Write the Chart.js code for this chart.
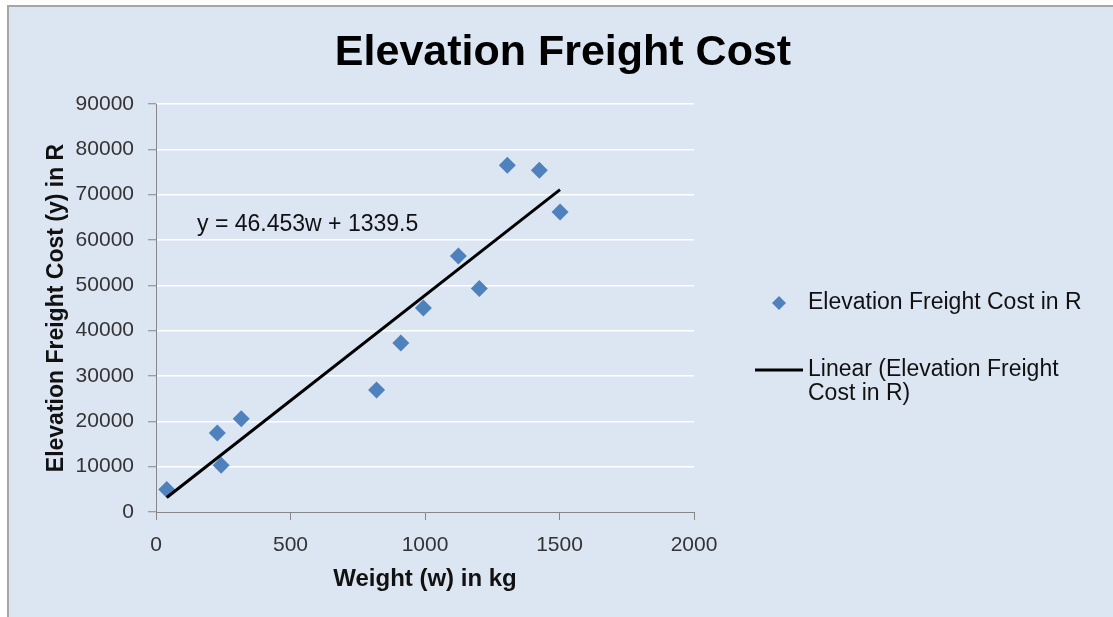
<!DOCTYPE html>
<html>
<head>
<meta charset="utf-8">
<script src="https://cdn.jsdelivr.net/npm/chart.js@4/dist/chart.umd.min.js"></script>
<style>
  html, body { margin: 0; padding: 0; background: #ffffff; }
  #wrap { width: 1113px; height: 617px; position: relative; }
</style>
</head>
<body>
<div id="wrap"><canvas id="c" width="1113" height="617"></canvas></div>
<script>
// ---- data ----
const weights = [40, 228, 242, 317, 820, 910, 994, 1124, 1202, 1306, 1425, 1502];
const costs   = [4950, 17450, 10300, 20550, 26900, 37300, 45000, 56450, 49300, 76500, 75400, 66200];
const trendW    = [40, 1502];
const trendCost = [3200, 71100];
const xTicks = [0, 500, 1000, 1500, 2000];
const yTicks = [0, 10000, 20000, 30000, 40000, 50000, 60000, 70000, 80000, 90000];

const chartTitle = 'Elevation Freight Cost';
const xTitle = 'Weight (w) in kg';
const yTitle = 'Elevation Freight Cost (y) in R';
const seriesName = 'Elevation Freight Cost in R';
const trendNameLines = ['Linear (Elevation Freight', 'Cost in R)'];
const equationText = 'y = 46.453w + 1339.5';

const FONT = '"Liberation Sans", Arial, sans-serif';
const BLUE = '#4f81bd';
const AXIS = '#868686';

const scatterPts = weights.map((w, i) => ({ x: w, y: costs[i] }));
const trendPts = trendW.map((w, i) => ({ x: w, y: trendCost[i] }));

const decor = {
  id: 'decor',
  beforeDraw(chart) {
    const ctx = chart.ctx;
    ctx.save();
    ctx.fillStyle = '#ffffff';
    ctx.fillRect(0, 0, chart.width, chart.height);
    ctx.fillStyle = '#dce6f2';
    ctx.fillRect(8, 6, chart.width - 8, chart.height - 6);
    ctx.fillStyle = '#a6a6a6';
    ctx.fillRect(7, 5, 2, chart.height - 5);
    ctx.fillRect(7, 5, chart.width - 7, 2);
    ctx.restore();
  },
  afterDraw(chart) {
    const ctx = chart.ctx;
    ctx.save();
    // title
    ctx.fillStyle = '#000000';
    ctx.font = 'bold 43px ' + FONT;
    ctx.textAlign = 'center';
    ctx.textBaseline = 'alphabetic';
    ctx.fillText(chartTitle, 563, 65);
    // equation
    ctx.font = '23px ' + FONT;
    ctx.textAlign = 'left';
    ctx.fillStyle = '#111111';
    ctx.fillText(equationText, 197, 231);
    // legend: series marker
    ctx.fillStyle = BLUE;
    const mx = 779, my = 303, r = 7;
    ctx.beginPath();
    ctx.moveTo(mx - r, my); ctx.lineTo(mx, my - r); ctx.lineTo(mx + r, my); ctx.lineTo(mx, my + r);
    ctx.closePath();
    ctx.fill();
    ctx.fillStyle = '#111111';
    ctx.textBaseline = 'middle';
    ctx.fillText(seriesName, 808, 303);
    // legend: trend line
    ctx.strokeStyle = '#000000';
    ctx.lineWidth = 3;
    ctx.beginPath();
    ctx.moveTo(755, 370); ctx.lineTo(803, 370);
    ctx.stroke();
    ctx.fillText(trendNameLines[0], 808, 370);
    ctx.fillText(trendNameLines[1], 808, 394);
    ctx.restore();
  }
};

new Chart(document.getElementById('c'), {
  type: 'scatter',
  data: {
    datasets: [
      {
        label: 'Linear (' + seriesName + ')',
        data: trendPts,
        showLine: true,
        borderColor: '#000000',
        borderWidth: 3,
        pointRadius: 0,
        pointHoverRadius: 0,
        fill: false
      },
      {
        label: seriesName,
        data: scatterPts,
        pointStyle: 'rectRot',
        pointRadius: 8.5,
        pointHoverRadius: 8.5,
        backgroundColor: BLUE,
        borderColor: BLUE,
        borderWidth: 0
      }
    ]
  },
  options: {
    responsive: false,
    animation: false,
    devicePixelRatio: 1,
    layout: { padding: { left: 40, right: 419, top: 104, bottom: 20 } },
    plugins: {
      legend: { display: false },
      title: { display: false },
      tooltip: { enabled: false }
    },
    scales: {
      x: {
        type: 'linear',
        min: 0, max: 2000,
        afterBuildTicks(s) { s.ticks = xTicks.map(v => ({ value: v })); },
        afterFit(s) { s.height = 85; },
        grid: { drawOnChartArea: false, drawTicks: true, tickLength: 8, tickColor: AXIS, tickWidth: 1 },
        border: { color: AXIS, width: 1 },
        ticks: { color: '#333333', font: { family: FONT, size: 21 }, padding: 13, maxRotation: 0, callback: (v) => String(v) },
        title: { display: true, text: xTitle, color: '#111111', font: { family: FONT, size: 24, weight: 'bold' }, padding: { top: 0, bottom: 3 } }
      },
      y: {
        type: 'linear',
        min: 0, max: 90000,
        afterBuildTicks(s) { s.ticks = yTicks.map(v => ({ value: v })); },
        afterFit(s) { s.width = 116; },
        grid: {
          color: (c) => (c.tick && c.tick.value === 0) ? 'rgba(0,0,0,0)' : '#ffffff',
          lineWidth: 1.5,
          drawTicks: true, tickLength: 8, tickColor: AXIS, tickWidth: 1
        },
        border: { color: AXIS, width: 1 },
        ticks: { color: '#333333', font: { family: FONT, size: 21 }, padding: 14, callback: (v) => String(v) },
        title: { display: true, text: yTitle, color: '#111111', font: { family: FONT, size: 23, weight: 'bold' }, padding: { top: 3, bottom: 0 } }
      }
    }
  },
  plugins: [decor]
});
</script>
</body>
</html>
